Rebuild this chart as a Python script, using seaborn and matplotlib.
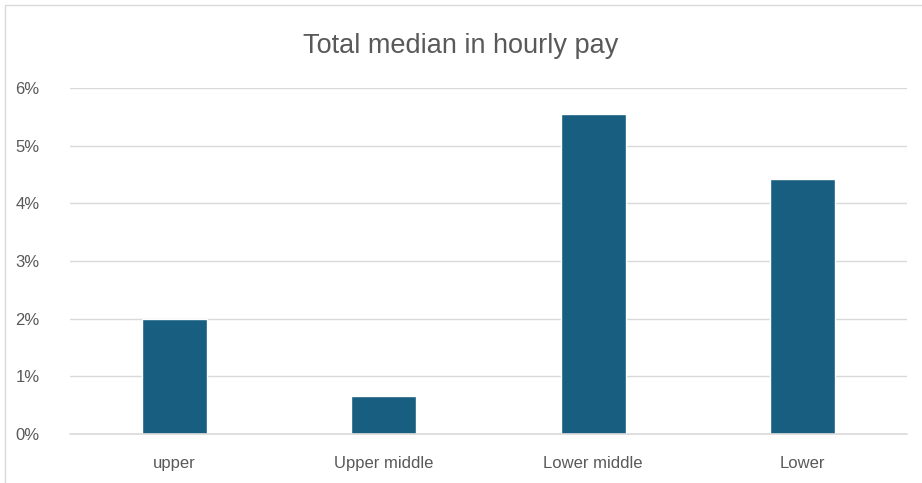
import matplotlib
matplotlib.use("Agg")
import matplotlib.pyplot as plt
import matplotlib.ticker as mticker
import pandas as pd
import seaborn as sns

# values (fractions, shown as %)
categories = ["upper", "Upper middle", "Lower middle", "Lower"]
median_pay = [0.0200, 0.0066, 0.0555, 0.0443]

BAR = "#175E80"
TEXT = "#595959"
GRID = "#D9D9D9"

sns.set_theme(style="white")
plt.rcParams["font.family"] = ["Liberation Sans", "DejaVu Sans"]

df = pd.DataFrame({"band": categories, "pay": median_pay})

fig = plt.figure(figsize=(9.22, 4.83), dpi=100)
ax = fig.add_axes([0.0759, 0.1014, 0.9078, 0.7164])

sns.barplot(data=df, x="band", y="pay", color=BAR, width=0.31, saturation=1, ax=ax)

ax.set_ylim(0, 0.06)
ax.set_xlim(-0.5, 3.5)
ax.yaxis.set_major_locator(mticker.MultipleLocator(0.01))
ax.yaxis.set_major_formatter(mticker.PercentFormatter(xmax=1, decimals=0))
ax.grid(axis="y", color=GRID, linewidth=1)
ax.set_axisbelow(True)
ax.axhline(0, color=GRID, linewidth=1.2, clip_on=False, zorder=3)
for s in ax.spines.values():
    s.set_visible(False)
ax.tick_params(axis="both", length=0, colors=TEXT, labelsize=12)
ax.tick_params(axis="y", pad=22)
ax.tick_params(axis="x", pad=16)
ax.set_xlabel("")
ax.set_ylabel("")

fig.text(0.5, 0.905, "Total median in hourly pay", ha="center", va="center",
         fontsize=19.5, color=TEXT)

# outer chart border (screenshot frame)
fig.patches.append(plt.Rectangle((5 / 922, -0.1), 1.2, (483 - 5) / 483 + 0.1,
                                 transform=fig.transFigure, fill=False,
                                 edgecolor=GRID, linewidth=1))

fig.savefig("out.png", dpi=100)
